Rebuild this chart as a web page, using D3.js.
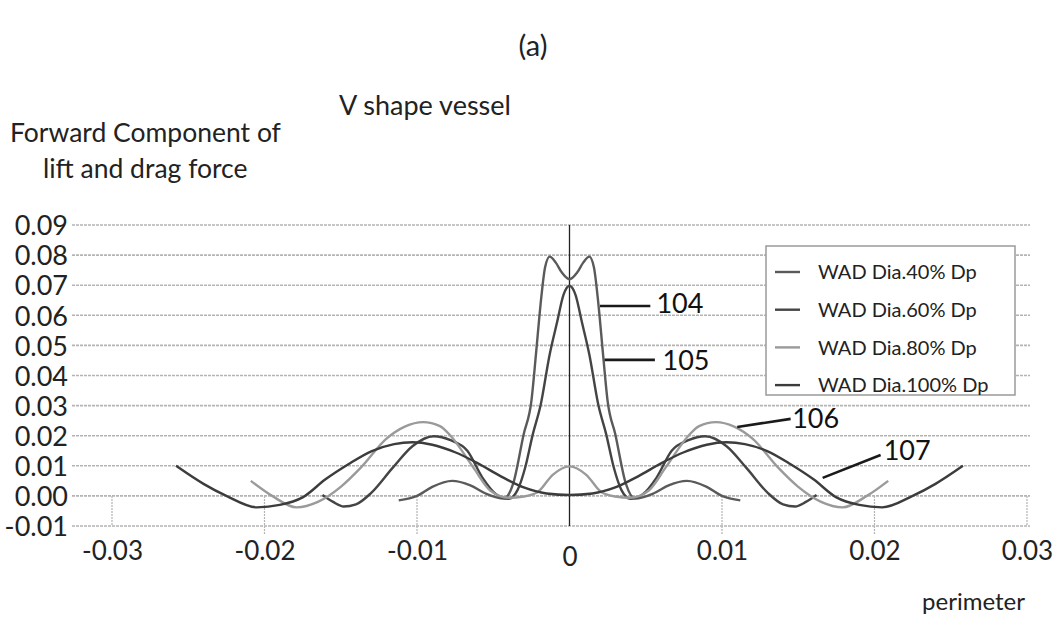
<!DOCTYPE html>
<html>
<head>
<meta charset="utf-8">
<script src="https://cdn.jsdelivr.net/npm/d3@7"></script>
<style>
  html, body { margin: 0; padding: 0; background: #fff; }
  svg { display: block; }
</style>
</head>
<body>
<svg id="chart" width="1064" height="618"></svg>
<script>
// ─── Data ────────────────────────────────────────────────────────────────────

const seriesNames = ['WAD Dia.40% Dp', 'WAD Dia.60% Dp', 'WAD Dia.80% Dp', 'WAD Dia.100% Dp'];

// left half of each curve, [perimeter, force]; the right half is the mirror image
const wad40 = [
  [-0.0112, -0.0015], [-0.0100, 0.0000], [-0.0090, 0.0030], [-0.0077, 0.0050],
  [-0.0065, 0.0035], [-0.0055, 0.0008], [-0.0043, -0.0009], [-0.0037, 0.0040],
  [-0.0030, 0.0206], [-0.0025, 0.0315], [-0.0022, 0.0470], [-0.0019, 0.0635],
  [-0.0016, 0.0760], [-0.0013, 0.0795], [-0.0009, 0.0775], [-0.0005, 0.0742],
  [0, 0.0720]
];
const wad60 = [
  [-0.0162, 0.0003], [-0.0155, -0.0020], [-0.0148, -0.0035], [-0.0140, -0.0028],
  [-0.0130, 0.0010], [-0.0116, 0.0093], [-0.0103, 0.0165], [-0.0089, 0.0198],
  [-0.0078, 0.0185], [-0.0067, 0.0150], [-0.0057, 0.0060], [-0.0048, 0.0005],
  [-0.0040, -0.0010], [-0.0034, 0.0020], [-0.0029, 0.0095], [-0.0024, 0.0206],
  [-0.0019, 0.0300], [-0.0013, 0.0470], [-0.0008, 0.0580], [-0.0004, 0.0667],
  [0, 0.0698]
];
const wad80 = [
  [-0.0209, 0.0050], [-0.0195, 0.0000], [-0.0179, -0.0038], [-0.0165, -0.0020],
  [-0.0150, 0.0030], [-0.0137, 0.0093], [-0.0120, 0.0190], [-0.0108, 0.0230],
  [-0.0096, 0.0245], [-0.0085, 0.0232], [-0.0078, 0.0200], [-0.0063, 0.0094],
  [-0.0052, 0.0018], [-0.0040, -0.0006], [-0.0030, -0.0002], [-0.0021, 0.0012],
  [-0.0011, 0.0070], [0, 0.0098]
];
const wad100 = [
  [-0.0258, 0.0100], [-0.0240, 0.0040], [-0.0225, 0.0000], [-0.0205, -0.0038],
  [-0.0190, -0.0030], [-0.0175, -0.0005], [-0.0160, 0.0055], [-0.0145, 0.0105],
  [-0.0130, 0.0148], [-0.0115, 0.0172], [-0.0103, 0.0178], [-0.0090, 0.0170],
  [-0.0075, 0.0145], [-0.0060, 0.0108], [-0.0045, 0.0065], [-0.0030, 0.0028],
  [-0.0015, 0.0008], [0, 0.0003]
];

const yTicks = [-0.01, 0, 0.01, 0.02, 0.03, 0.04, 0.05, 0.06, 0.07, 0.08, 0.09];
const xTicks = [-0.03, -0.02, -0.01, 0, 0.01, 0.02, 0.03];

// numbered callouts: leader start on the curve, leader end, label position
const callouts = [
  { text: '104', from: [0.0020, 0.0631], to: [0.0053, 0.0631], at: [0.0057, 0.0641] },
  { text: '105', from: [0.0023, 0.0452], to: [0.0056, 0.0452], at: [0.0061, 0.0449] },
  { text: '106', from: [0.0110, 0.0229], to: [0.0145, 0.0256], at: [0.0146, 0.0259] },
  { text: '107', from: [0.0166, 0.0060], to: [0.0204, 0.0136], at: [0.0206, 0.0153] }
];

// ─── Setup ───────────────────────────────────────────────────────────────────

const FONT = 'Lato, "Open Sans", sans-serif';
const colors = ['#5a5a5a', '#444', '#9a9a9a', '#3c3c3c'];

// plain hyphen for negatives, as in the original
const fmt2 = d3.formatLocale({ decimal: '.', thousands: ',', grouping: [3], currency: ['', ''], minus: '-' }).format('.2f');

const mirror = half => half.concat(half.slice(0, -1).reverse().map(([x, y]) => [-x, y]));
const series = [wad40, wad60, wad80, wad100].map((half, i) => ({
  name: seriesNames[i], color: colors[i], values: mirror(half)
}));

const svg = d3.select('#chart');
const x = d3.scaleLinear().domain([-0.03, 0.03]).range([112, 1027]);
const y = d3.scaleLinear().domain([-0.01, 0.09]).range([526, 225]);
const gridLeft = 72;

// ─── Titles ──────────────────────────────────────────────────────────────────

svg.append('text').attr('x', 533).attr('y', 56).attr('text-anchor', 'middle')
  .style('font-family', FONT).style('font-size', '29px').attr('fill', '#222').text('(a)');
svg.append('text').attr('x', 425).attr('y', 115).attr('text-anchor', 'middle')
  .style('font-family', FONT).style('font-size', '27px').attr('fill', '#222').text('V shape vessel');
svg.append('text').attr('x', 10).attr('y', 142)
  .style('font-family', FONT).style('font-size', '26.5px').attr('fill', '#222').text('Forward Component of');
svg.append('text').attr('x', 43).attr('y', 178)
  .style('font-family', FONT).style('font-size', '26.5px').attr('fill', '#222').text('lift and drag force');
svg.append('text').attr('x', 1025).attr('y', 610).attr('text-anchor', 'end')
  .style('font-family', FONT).style('font-size', '24px').attr('fill', '#222').text('perimeter');

// ─── Grid ────────────────────────────────────────────────────────────────────

svg.append('g').selectAll('line').data(yTicks).join('line')
  .attr('x1', gridLeft).attr('x2', x(0.03) + 3)
  .attr('y1', d => y(d)).attr('y2', d => y(d))
  .attr('stroke', '#b4b4b4').attr('stroke-width', 1.6).attr('stroke-dasharray', '3,1');

// short vertical grid segments below the zero line
svg.append('g').selectAll('line').data(xTicks.filter(d => d !== 0)).join('line')
  .attr('x1', d => x(d)).attr('x2', d => x(d))
  .attr('y1', y(0)).attr('y2', d => Math.abs(d) === 0.03 ? y(-0.01) : y(-0.01) + 9)
  .attr('stroke', '#b4b4b4').attr('stroke-width', 1.2).attr('stroke-dasharray', '2,1');

// vertical axis through zero
svg.append('line')
  .attr('x1', x(0)).attr('x2', x(0)).attr('y1', y(0.09)).attr('y2', y(-0.01))
  .attr('stroke', '#222').attr('stroke-width', 1.3);

// ─── Axis labels ─────────────────────────────────────────────────────────────

svg.append('g').call(d3.axisLeft(y).tickValues(yTicks).tickSize(0).tickPadding(0).tickFormat(fmt2))
  .attr('transform', 'translate(68,0)')
  .call(sel => {
    sel.select('.domain').remove();
    sel.selectAll('text').attr('fill', '#222').attr('dy', '0.36em')
      .style('font-family', FONT).style('font-size', '27px');
  });

svg.append('g').call(d3.axisBottom(x).tickValues(xTicks).tickSize(0).tickPadding(0)
    .tickFormat(d => d === 0 ? '0' : fmt2(d)))
  .attr('transform', 'translate(0,540)')
  .call(sel => {
    sel.select('.domain').remove();
    sel.selectAll('text').attr('fill', '#222').attr('dy', d => d === 0 ? '1.0em' : '0.75em')
      .style('font-family', FONT).style('font-size', '26px');
  });

// ─── Curves ──────────────────────────────────────────────────────────────────

const line = d3.line().x(d => x(d[0])).y(d => y(d[1])).curve(d3.curveMonotoneX);

svg.append('g').selectAll('path').data(series).join('path')
  .attr('d', d => line(d.values))
  .attr('fill', 'none')
  .attr('stroke', d => d.color)
  .attr('stroke-width', 2.4);

// ─── Callouts ────────────────────────────────────────────────────────────────

const co = svg.append('g');
co.selectAll('line').data(callouts).join('line')
  .attr('x1', d => x(d.from[0])).attr('y1', d => y(d.from[1]))
  .attr('x2', d => x(d.to[0])).attr('y2', d => y(d.to[1]))
  .attr('stroke', '#1a1a1a').attr('stroke-width', 2.6);
co.selectAll('text').data(callouts).join('text')
  .attr('x', d => x(d.at[0])).attr('y', d => y(d.at[1])).attr('dy', '0.36em')
  .attr('fill', '#111')
  .style('font-family', FONT).style('font-size', '27px')
  .text(d => d.text);

// ─── Legend ──────────────────────────────────────────────────────────────────

const legend = svg.append('g').attr('transform', 'translate(766,246)');
legend.append('rect').attr('width', 249).attr('height', 149)
  .attr('fill', '#fff').attr('stroke', '#9a9a9a').attr('stroke-width', 1.5);
const items = legend.selectAll('g.item').data(series).join('g')
  .attr('class', 'item')
  .attr('transform', (d, i) => `translate(0,${26 + i * 37.7})`);
items.append('line').attr('x1', 9).attr('x2', 34)
  .attr('stroke', d => d.color).attr('stroke-width', 2.4);
items.append('text').attr('x', 52).attr('dy', '0.36em')
  .attr('fill', '#222').style('font-family', FONT).style('font-size', '20px')
  .text(d => d.name);
</script>
</body>
</html>
